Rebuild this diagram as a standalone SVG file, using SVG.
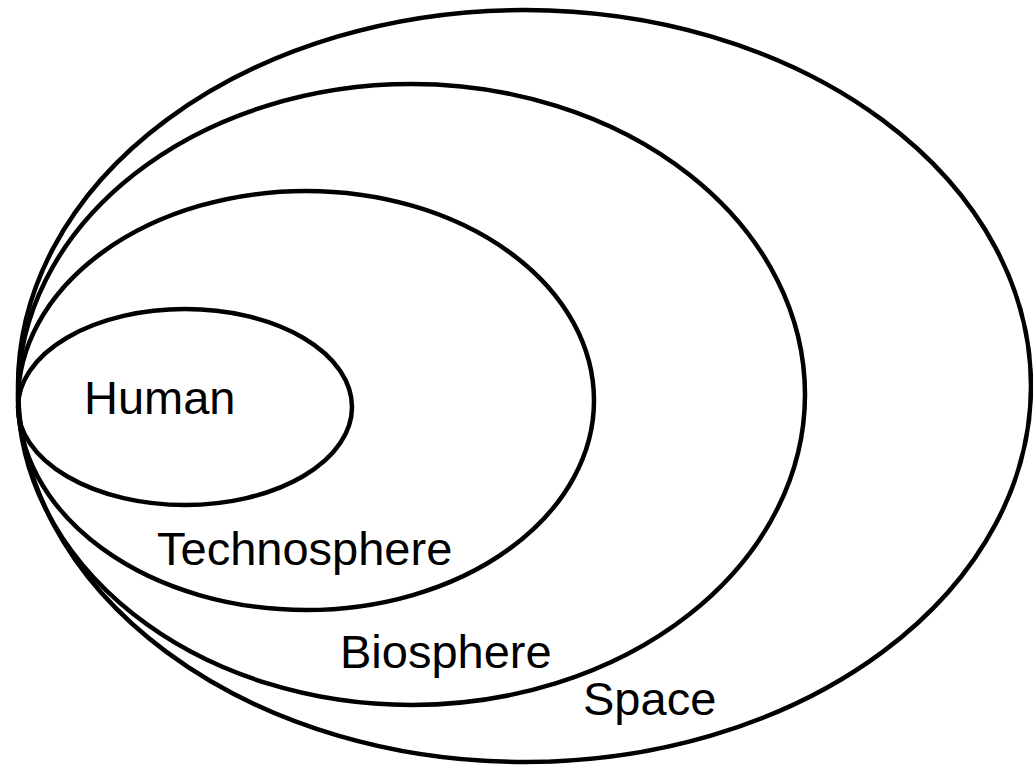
<svg xmlns="http://www.w3.org/2000/svg" width="1033" height="767" viewBox="0 0 1033 767">
<style>
.ring{fill:none;stroke:#000;stroke-width:4.5}
.lbl{font-family:"Liberation Sans",Arial,sans-serif;font-size:47px;fill:#000}
</style>
<rect width="1033" height="767" fill="#fff"/>
<g id="space"><ellipse class="ring" cx="524.5" cy="386" rx="506.5" ry="376"/><text class="lbl" x="583" y="715">Space</text></g>
<g id="biosphere"><ellipse class="ring" cx="411.5" cy="394.5" rx="393.5" ry="310.5"/><text class="lbl" x="340" y="668">Biosphere</text></g>
<g id="technosphere"><ellipse class="ring" cx="306" cy="400.5" rx="288" ry="209.5"/><text class="lbl" x="157" y="565">Technosphere</text></g>
<g id="human"><ellipse class="ring" cx="185" cy="407" rx="167" ry="98"/><text class="lbl" x="84" y="414">Human</text></g>
<g id="connectors"/>
</svg>
